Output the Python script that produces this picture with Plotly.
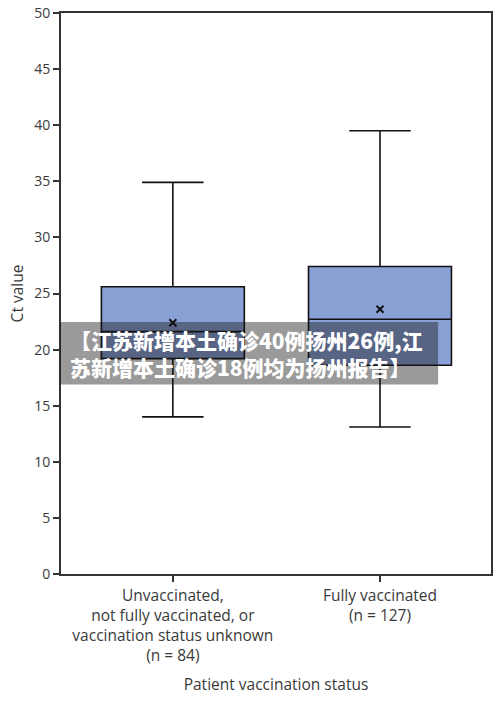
"""Ct value box plot by patient vaccination status, with news banner overlay."""

import plotly.graph_objects as go

categories = [
    "Unvaccinated,<br>not fully vaccinated, or<br>vaccination status unknown<br>(n = 84)",
    "Fully vaccinated<br>(n = 127)",
]
lower_whisker = [14.0, 13.1]
q1_values = [19.2, 18.6]
median_values = [21.6, 22.7]
q3_values = [25.6, 27.4]
upper_whisker = [34.9, 39.5]
mean_values = [22.4, 23.6]

banner_text = "【江苏新增本土确诊40例扬州26例,江<br>苏新增本土确诊18例均为扬州报告】"

AXIS_COLOR = "#333333"
TEXT_COLOR = "#3a3a3a"
BOX_FILL = "#8AA1D6"

fig = go.Figure()
fig.add_trace(
    go.Box(
        x=categories,
        q1=q1_values,
        median=median_values,
        q3=q3_values,
        lowerfence=lower_whisker,
        upperfence=upper_whisker,
        width=0.69,
        whiskerwidth=0.43,
        fillcolor=BOX_FILL,
        line={"color": "#111111", "width": 1.6},
        boxpoints=False,
        showlegend=False,
        hoverinfo="skip",
    )
)
fig.add_trace(
    go.Scatter(
        x=categories,
        y=mean_values,
        mode="markers",
        marker={"symbol": "x-thin", "size": 7, "line": {"color": "#111111", "width": 2}},
        showlegend=False,
        hoverinfo="skip",
    )
)

# grey news banner laid over the chart
fig.add_shape(
    type="rect",
    xref="paper",
    yref="paper",
    x0=-0.002,
    x1=0.877,
    y0=0.338,
    y1=0.449,
    line={"width": 0},
    fillcolor="rgba(20,20,20,0.43)",
    layer="above",
)
fig.add_annotation(
    xref="paper",
    yref="paper",
    x=0.017,
    y=0.393,
    xanchor="left",
    yanchor="middle",
    align="left",
    showarrow=False,
    text=banner_text,
    font={"family": "Noto Sans CJK SC", "size": 21, "color": "white", "weight": 900},
)

fig.update_xaxes(
    type="category",
    range=[-0.54, 1.536],
    automargin=False,
    showline=True,
    linecolor=AXIS_COLOR,
    linewidth=2,
    mirror=True,
    ticks="outside",
    ticklen=6,
    tickwidth=2,
    tickcolor=AXIS_COLOR,
    tickfont={"size": 15.5, "color": TEXT_COLOR},
    title={"text": "Patient vaccination status", "font": {"size": 15.5, "color": TEXT_COLOR}, "standoff": 14},
    showgrid=False,
)
fig.update_yaxes(
    range=[0, 50],
    dtick=5,
    automargin=False,
    showline=True,
    linecolor=AXIS_COLOR,
    linewidth=2,
    mirror=True,
    ticks="outside",
    ticklen=6,
    tickwidth=2,
    tickcolor=AXIS_COLOR,
    tickfont={"size": 14, "color": TEXT_COLOR},
    title={"text": "Ct value", "font": {"size": 15.5, "color": TEXT_COLOR}, "standoff": 7},
    showgrid=False,
    zeroline=False,
)
fig.update_layout(
    width=500,
    height=708,
    margin={"l": 61, "r": 9, "t": 13, "b": 134},
    paper_bgcolor="white",
    plot_bgcolor="white",
    font={"family": "Open Sans", "color": TEXT_COLOR},
)

# drop the default page margin so the figure sits at the window's corner
fig.write_html(
    "out.html",
    config={"displayModeBar": False},
    post_script="document.body.style.margin = '0';",
)
